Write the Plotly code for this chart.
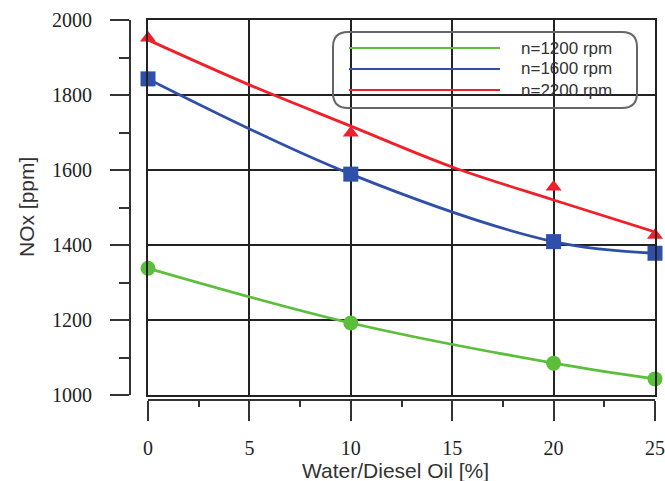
import plotly.graph_objects as go

# ---- data ----
water = [0, 10, 20, 25]
nox_1200 = [1338, 1192, 1085, 1043]
nox_1600 = [1843, 1589, 1409, 1378]
nox_2200 = [1952, 1699, 1555, 1426]
fit_x = [0, 5, 10, 15, 20, 25]
fit_2200 = [1947, 1827, 1717, 1608, 1520, 1435]
series_names = ["n=1200 rpm", "n=1600 rpm", "n=2200 rpm"]
colors = ["#5cbf3c", "#2f4fa8", "#f0202a"]
x_ticks = [0, 5, 10, 15, 20, 25]
y_ticks = [1000, 1200, 1400, 1600, 1800, 2000]

W, H = 665, 481
ML, MR, MT, MB = 60, 10, 20, 40
PW, PH = W - ML - MR, H - MT - MB

def px(X):
    return (X - ML) / PW

def py(Y):
    return 1 - (Y - MT) / PH

fig = go.Figure()

fig.add_trace(go.Scatter(x=water, y=nox_1200, mode="lines+markers", line=dict(color=colors[0], width=2.8, shape="spline"),
                         marker=dict(symbol="circle", size=15, color=colors[0]), showlegend=False, cliponaxis=False))
fig.add_trace(go.Scatter(x=water, y=nox_1600, mode="lines+markers", line=dict(color=colors[1], width=2.8, shape="spline"),
                         marker=dict(symbol="square", size=15, color=colors[1]), showlegend=False, cliponaxis=False))
fig.add_trace(go.Scatter(x=fit_x, y=fit_2200, mode="lines", line=dict(color=colors[2], width=2.8, shape="spline"),
                         showlegend=False))
fig.add_trace(go.Scatter(x=water, y=nox_2200, mode="markers",
                         marker=dict(symbol="triangle-up", size=14, color=colors[2]), showlegend=False,
                         cliponaxis=False))
# dummy for detached axes
fig.add_trace(go.Scatter(x=[], y=[], xaxis="x2", yaxis="y2", showlegend=False))

xdom = [px(148), 1]
ydom = [py(395), 1]
grid = "#222222"
tickfont = dict(family="Liberation Serif", size=20, color="#222222")

fig.update_layout(
    width=W, height=H,
    margin=dict(l=ML, r=MR, t=MT, b=MB, autoexpand=False),
    paper_bgcolor="white", plot_bgcolor="white",
    showlegend=False,
    xaxis=dict(domain=xdom, range=[0, 25], tickvals=x_ticks, showgrid=True, gridcolor=grid, gridwidth=1.5,
               showline=True, linecolor=grid, linewidth=1.5, mirror=True, showticklabels=False, ticks="",
               zeroline=False, anchor="y", automargin=False),
    yaxis=dict(domain=ydom, range=[1000, 2000], tickvals=y_ticks, showgrid=True, gridcolor=grid, gridwidth=1.5,
               showline=True, linecolor=grid, linewidth=1.5, mirror=True, showticklabels=False, ticks="",
               zeroline=False, anchor="x", automargin=False),
    xaxis2=dict(overlaying="x", range=[0, 25], tickvals=x_ticks, anchor="free", position=py(400),
                showline=True, linecolor="#333333", linewidth=2, ticks="outside", ticklen=20, tickwidth=2,
                tickcolor="#333333", minor=dict(ticks="outside", dtick=2.5, ticklen=6, tickwidth=2, tickcolor="#333333"),
                showgrid=False, zeroline=False, tickfont=tickfont, ticklabelstandoff=10, automargin=False),
    yaxis2=dict(overlaying="y", range=[1000, 2000], tickvals=y_ticks, anchor="free", position=px(130),
                side="left", showline=True, linecolor="#333333", linewidth=2, ticks="outside", ticklen=19,
                tickwidth=2, tickcolor="#333333",
                minor=dict(ticks="outside", dtick=100, ticklen=10, tickwidth=2, tickcolor="#333333"),
                showgrid=False, zeroline=False, tickfont=tickfont, ticklabelstandoff=14, automargin=False),
)

# axis titles
fig.add_annotation(text="Water/Diesel Oil [%]", xref="paper", yref="paper", x=px(395), y=py(470),
                   xanchor="center", yanchor="middle",
                   showarrow=False, font=dict(family="Liberation Sans", size=21, color="#333333"))
fig.add_annotation(text="NOx [ppm]", xref="paper", yref="paper", x=px(27), y=py(207), textangle=-90,
                   xanchor="center", yanchor="middle",
                   showarrow=False, font=dict(family="Liberation Sans", size=21, color="#333333"))

# legend box (rounded)
x0, x1, y0, y1 = px(333), px(637), py(32), py(108)
rx, ry = 15 / PW, 15 / PH
path = (f"M {x0+rx},{y0} L {x1-rx},{y0} Q {x1},{y0} {x1},{y0-ry} L {x1},{y1+ry} Q {x1},{y1} {x1-rx},{y1} "
        f"L {x0+rx},{y1} Q {x0},{y1} {x0},{y1+ry} L {x0},{y0-ry} Q {x0},{y0} {x0+rx},{y0} Z")
fig.add_shape(type="path", path=path, xref="paper", yref="paper", line=dict(color="#666666", width=2))

leg_y = [48, 69, 90]
for name, col, yy in zip(series_names, colors, leg_y):
    fig.add_shape(type="line", xref="paper", yref="paper", x0=px(349), x1=px(500), y0=py(yy), y1=py(yy),
                  line=dict(color=col, width=2))
    fig.add_annotation(text=name, xref="paper", yref="paper", x=px(519), y=py(yy), xanchor="left",
                       yanchor="middle",
                       showarrow=False, font=dict(family="Liberation Sans", size=17, color="#333333"))

fig.write_html("out.html", config={"displayModeBar": False},
               post_script="document.body.style.margin='0';document.body.style.overflow='hidden';")
